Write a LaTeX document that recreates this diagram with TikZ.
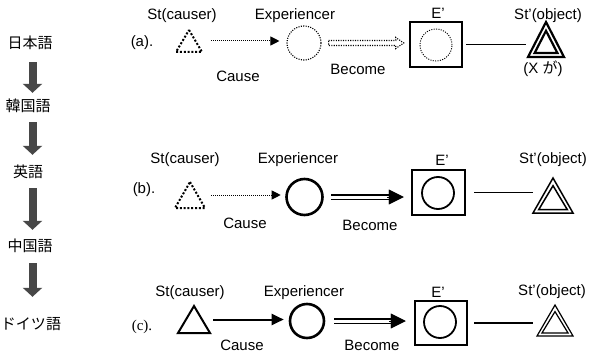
\documentclass[tikz,border=0pt]{standalone}
\usepackage{fontspec}
\setmainfont{Liberation Sans}
\newfontfamily\jpfont{Noto Sans CJK JP}
\newfontfamily\tmsfont{Liberation Serif}
\usetikzlibrary{arrows.meta,calc}

% outer triangle plus an inset copy, both built on a rectangular frame node
\newcommand{\twotri}[3]{%
  \draw[#3] (#1.north) -- (#1.south east) -- (#1.south west) -- cycle;
  \draw[#3] ([shift={(0,2.2*#2)}]#1.north)
        -- ([shift={(-1.65*#2,-#2)}]#1.south east)
        -- ([shift={(1.65*#2,-#2)}]#1.south west) -- cycle;}
\newcommand{\onetri}[2]{%
  \draw[#2] (#1.north) -- (#1.south east) -- (#1.south west) -- cycle;}

\tikzset{
  txt/.style={font=\fontsize{15}{18}\selectfont, inner sep=0pt},
  jtxt/.style={font=\jpfont\fontsize{15}{18}\selectfont, inner sep=0pt,
               text height=12pt, text depth=3pt},
  frame/.style={inner sep=0pt, outer sep=0pt},
  bigarr/.style={line width=8pt, draw=black!72,
                 -{Triangle[length=9pt,width=19pt]}},
  dotline/.style={line width=2pt, dash pattern=on 2pt off 1.8pt},
  dotthin/.style={line width=1.1pt, dash pattern=on 1.1pt off 1.3pt},
  causedot/.style={line width=1pt, dash pattern=on 1pt off 1pt,
                   -{Triangle[length=9pt,width=9pt]}},
  causesolid/.style={line width=2pt, -{Triangle[length=12pt,width=11pt]}},
  dbl/.style={line width=1.6pt, double distance=3pt},
  headtip/.style={line width=0.4pt, -{Triangle[length=15pt,width=15pt]}},
  ebox/.style={draw, line width=2.5pt, inner sep=0pt,
               minimum width=52pt, minimum height=45pt},
  link/.style={line width=1.8pt},
}

\begin{document}
\begin{tikzpicture}[x=1pt,y=-1pt]
\fill[white] (0,0) rectangle (591,353);
\useasboundingbox (0,0) rectangle (591,353);

% ---------- language order ----------
\node[jtxt] (ja) at (30,44)  {日本語};
\node[jtxt] (ko) at (28,107) {韓国語};
\node[jtxt] (en) at (28,173) {英語};
\node[jtxt] (zh) at (30,247) {中国語};
\node[jtxt] (de) at (31,325) {ドイツ語};
\coordinate (ax) at (32.5,0);
\draw[bigarr, shorten <=10.5pt, shorten >=6.5pt] (ja.south -| ax) -- (ko.north -| ax);
\draw[bigarr, shorten <=7.5pt,  shorten >=10.5pt] (ko.south -| ax) -- (en.north -| ax);
\draw[bigarr, shorten <=7.5pt,  shorten >=9.5pt] (en.south -| ax) -- (zh.north -| ax);
\draw[bigarr, shorten <=8.5pt,  shorten >=20.5pt] (zh.south -| ax) -- (de.north -| ax);

% ---------- (a) ----------
\node[txt] (la) at (142,43) {(a).};
\node[txt] (sca) at (182,16) {St(causer)};
\node[txt] (exa) at (295,16) {Experiencer};
\node[frame, minimum width=26pt, minimum height=22pt] (ta) at (189,41) {};
\onetri{ta}{dotline}
\node[circle, draw, dotthin, minimum size=34pt, inner sep=0pt] (ca) at (304,43) {};
\draw[causedot, shorten <=9pt, shorten >=7pt] (ta.east) -- (ta.east -| ca.west);
\node[txt] (cza) at (238,76) {Cause};
\node[ebox] (ba) at (436,44.5) {};
\node[circle, draw, dotthin, line width=0.9pt, minimum size=32pt, inner sep=0pt] (ia) at (436,45) {};
\node[txt] (epa) at (438,13) {E'};
\coordinate (ea) at (ca.east -| ba.west);
\draw[dotthin] ([shift={(7,-2.5)}]ca.east) -- ([shift={(-13,-2.5)}]ea)
   -- ([shift={(-13,-5.5)}]ea) -- ([shift={(-5,0)}]ea)
   -- ([shift={(-13,5.5)}]ea) -- ([shift={(-13,2.5)}]ea)
   -- ([shift={(7,2.5)}]ca.east) -- cycle;
\node[txt] (bca) at (358,69) {Become};
\node[frame, minimum width=36pt, minimum height=35pt] (oa) at (546,39.5) {};
\twotri{oa}{4}{line width=2.2pt}
\draw[link, shorten <=3pt, shorten >=2pt] (ba.east) -- (ba.east -| oa.west);
\node[txt] (soa) at (548,16) {St'(object)};
\node[txt] (xga) at (543,69) {(X {\jpfont が})};

% ---------- (b) ----------
\node[txt] (lb) at (144,190) {(b).};
\node[txt] (scb) at (185,160) {St(causer)};
\node[txt] (exb) at (298,160) {Experiencer};
\node[frame, minimum width=30pt, minimum height=26pt] (tb) at (190,195) {};
\onetri{tb}{dotline}
\node[circle, draw, line width=2.6pt, minimum size=36pt, inner sep=0pt] (cb) at (304.5,197) {};
\draw[causedot, shorten <=6pt, shorten >=4.5pt] (tb.east) -- (tb.east -| cb.west);
\node[txt] (czb) at (245,223) {Cause};
\node[ebox, minimum width=53pt] (bb) at (438.5,192.5) {};
\node[circle, draw, line width=1.8pt, minimum size=32pt, inner sep=0pt] (ib) at (438,193) {};
\node[txt] (epb) at (442,160) {E'};
\coordinate (eb) at (cb.east -| bb.west);
\draw[dbl] ([shift={(7.5,0)}]cb.east) -- ([shift={(-19,0)}]eb);
\draw[headtip] ([shift={(-24,0)}]eb) -- ([shift={(-7,0)}]eb);
\node[txt] (bcb) at (370,225) {Become};
\node[frame, minimum width=40pt, minimum height=35pt] (ob) at (553,195.5) {};
\twotri{ob}{3.5}{line width=1.5pt}
\draw[link, line width=1.5pt, shorten <=8pt] (bb.east) -- (bb.east -| ob.west);
\node[txt] (sob) at (553,160) {St'(object)};

% ---------- (c) ----------
\node[txt, font=\tmsfont\fontsize{15}{18}\selectfont] (lc) at (142,327) {(c).};
\node[txt] (scc) at (190,293) {St(causer)};
\node[txt] (exc) at (304,293) {Experiencer};
\node[frame, minimum width=32pt, minimum height=27pt] (tc) at (194,319.5) {};
\onetri{tc}{line width=2pt}
\node[circle, draw, line width=2.6pt, minimum size=34pt, inner sep=0pt] (cc) at (307,321) {};
\draw[causesolid, shorten <=3pt, shorten >=5pt] (tc.east) -- (tc.east -| cc.west);
\node[txt] (czc) at (242,345) {Cause};
\node[ebox, minimum height=44pt] (bc) at (441,323) {};
\node[circle, draw, line width=1.8pt, minimum size=32pt, inner sep=0pt] (ic) at (440,322) {};
\node[txt] (epc) at (438,292) {E'};
\coordinate (ec) at (cc.east -| bc.west);
\draw[dbl] ([shift={(9,0)}]cc.east) -- ([shift={(-20,0)}]ec);
\draw[headtip] ([shift={(-25,0)}]ec) -- ([shift={(-8,0)}]ec);
\node[txt] (bcc) at (372,345) {Become};
\node[frame, minimum width=36pt, minimum height=31pt] (oc) at (555,320.5) {};
\twotri{oc}{3}{line width=1.2pt}
\draw[link, shorten <=6pt, shorten >=4pt] (bc.east) -- (bc.east -| oc.west);
\node[txt] (soc) at (552,292) {St'(object)};
\end{tikzpicture}
\end{document}
